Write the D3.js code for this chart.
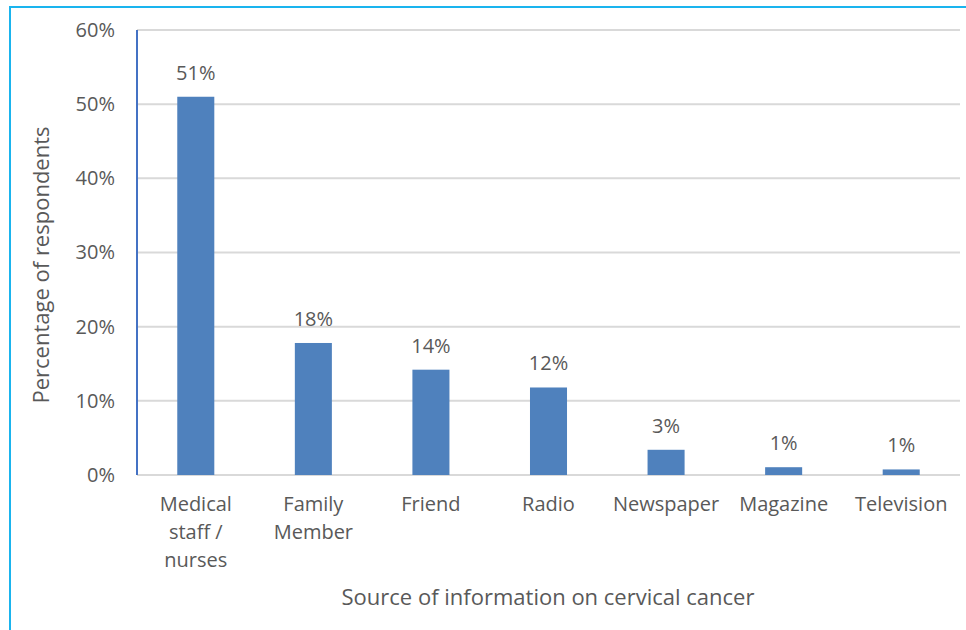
<!DOCTYPE html>
<html>
<head>
<meta charset="utf-8">
<script src="https://cdn.jsdelivr.net/npm/d3@7"></script>
<style>
  body { margin: 0; background: #fff; }
  text { font-family: "Open Sans", sans-serif; fill: #595959; }
</style>
</head>
<body>
<svg id="chart" width="966" height="630"></svg>
<script>
var categories = ["Medical staff / nurses", "Family Member", "Friend", "Radio", "Newspaper", "Magazine", "Television"];
var categoryLines = [["Medical", "staff /", "nurses"], ["Family", "Member"], ["Friend"], ["Radio"], ["Newspaper"], ["Magazine"], ["Television"]];
var percentages = [51.0, 17.8, 14.2, 11.8, 3.4, 1.05, 0.75];
var valueLabels = ["51%", "18%", "14%", "12%", "3%", "1%", "1%"];
var yTicks = [0, 10, 20, 30, 40, 50, 60];

var svg = d3.select('#chart');

// outer frame (only left and top visible)
svg.append('rect')
  .attr('x', 10).attr('y', 7)
  .attr('width', 1000).attr('height', 700)
  .attr('fill', 'none')
  .attr('stroke', '#1AB4EE')
  .attr('stroke-width', 2);

var plotLeft = 137, plotRight = 960, plotTop = 30, plotBottom = 475;

var x = d3.scaleBand().domain(categories).range([plotLeft, plotRight]).paddingInner(0.685).paddingOuter(0.3425);
var y = d3.scaleLinear().domain([0, 60]).range([plotBottom, plotTop]);

// gridlines
svg.append('g')
  .selectAll('line')
  .data(yTicks)
  .join('line')
  .attr('x1', plotLeft).attr('x2', plotRight)
  .attr('y1', function(d) { return y(d); })
  .attr('y2', function(d) { return y(d); })
  .attr('stroke', '#D9D9D9')
  .attr('stroke-width', 2);

// y tick labels
var yAxis = d3.axisLeft(y).tickValues(yTicks).tickSize(0).tickPadding(22)
  .tickFormat(function(d) { return d + '%'; });
var gy = svg.append('g').attr('transform', 'translate(' + plotLeft + ',0)').call(yAxis);
gy.select('.domain').remove();
gy.selectAll('text').attr('font-size', 20).attr('fill', '#595959')
  .style('font-family', '"Open Sans", sans-serif');

// bars
svg.append('g')
  .selectAll('rect')
  .data(percentages)
  .join('rect')
  .attr('x', function(d, i) { return x(categories[i]); })
  .attr('y', function(d) { return y(d); })
  .attr('width', x.bandwidth())
  .attr('height', function(d) { return y(0) - y(d); })
  .attr('fill', '#4F81BD');

// y axis line
svg.append('line')
  .attr('x1', plotLeft).attr('x2', plotLeft)
  .attr('y1', plotTop).attr('y2', plotBottom)
  .attr('stroke', '#4472C4')
  .attr('stroke-width', 2);

// value labels
svg.append('g')
  .selectAll('text')
  .data(percentages)
  .join('text')
  .attr('x', function(d, i) { return x(categories[i]) + x.bandwidth() / 2; })
  .attr('y', function(d) { return y(d) - 17; })
  .attr('text-anchor', 'middle')
  .attr('font-size', 20)
  .text(function(d, i) { return valueLabels[i]; });

// category labels
var cat = svg.append('g')
  .selectAll('text')
  .data(categories)
  .join('text')
  .attr('text-anchor', 'middle')
  .attr('font-size', 20);
cat.each(function(d, i) {
  var t = d3.select(this);
  categoryLines[i].forEach(function(line, j) {
    t.append('tspan')
      .attr('x', x(d) + x.bandwidth() / 2)
      .attr('y', 511 + j * 28)
      .text(line);
  });
});

// axis titles
svg.append('text')
  .attr('x', 548).attr('y', 605)
  .attr('text-anchor', 'middle')
  .attr('font-size', 22)
  .text('Source of information on cervical cancer');

svg.append('text')
  .attr('transform', 'translate(49,265) rotate(-90)')
  .attr('text-anchor', 'middle')
  .attr('font-size', 22)
  .text('Percentage of respondents');
</script>
</body>
</html>
